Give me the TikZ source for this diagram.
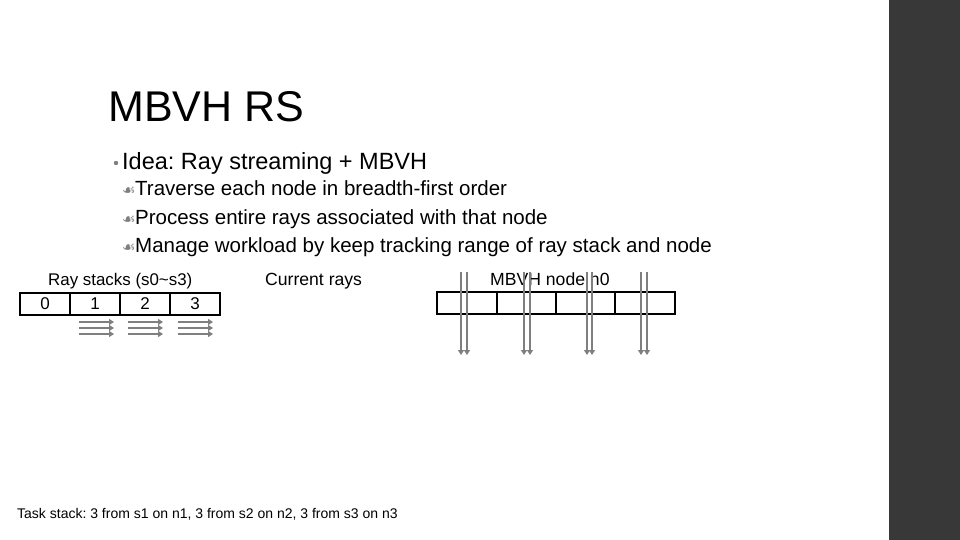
\documentclass[tikz,border=0pt]{standalone}
\usepackage{fontspec}
\setmainfont{Liberation Sans}
\newfontfamily\symfont{DejaVu Sans}
\usetikzlibrary{arrows.meta}
\frenchspacing
\definecolor{barcol}{HTML}{383838}
\definecolor{raycol}{HTML}{7F7F7F}
\tikzset{
  txt/.style={anchor=base west,inner sep=0pt,text=black},
  cell/.style={draw=black,line width=1.8pt},
  ray/.style={draw=raycol,line width=1.6pt,-{Triangle[width=6pt,length=5pt]}},
  subb/.style={anchor=base west,inner sep=0pt,text=raycol,font=\symfont\fontsize{15}{15}\selectfont},
}
\begin{document}
\begin{tikzpicture}[x=1pt,y=-1pt]
\useasboundingbox (0,0) rectangle (960,540);
\fill[white] (0,0) rectangle (960,540);
\fill[barcol] (889,0) rectangle (960,540);
% title
\node[txt,font=\fontsize{43}{43}\selectfont] (title) at (108,122) {MBVH RS};
% bullets
\fill[raycol] (116,163) circle (2.2);
\node[txt,font=\fontsize{23.5}{23.5}\selectfont] (idea) at (122,170) {Idea: Ray streaming + MBVH};
\node[subb] (b1) at (122,196) {☙};
\node[txt,font=\fontsize{20.5}{20.5}\selectfont] (t1) at (135,196) {Traverse each node in breadth-first order};
\node[subb] (b2) at (122,224) {☙};
\node[txt,font=\fontsize{20.5}{20.5}\selectfont] (t2) at (135,224) {Process entire rays associated with that node};
\node[subb] (b3) at (122,252) {☙};
\node[txt,font=\fontsize{20.5}{20.5}\selectfont] (t3) at (135,252) {Manage workload by keep tracking range of ray stack and node};
% labels
\node[txt,font=\fontsize{16.9}{16.9}\selectfont] (rs) at (48,285) {Ray stacks (s0\char`~s3)};
\node[txt,font=\fontsize{17.6}{17.6}\selectfont] (cr) at (265,285) {Current rays};
% ray stack table
\foreach \i/\x in {0/20,1/70,2/120,3/170}{
  \draw[cell] (\x,293) rectangle ++(50,22);
  \node[inner sep=0pt,font=\fontsize{17}{17}\selectfont] (s\i) at (\x+25,304) {\i};
}
% horizontal rays
\foreach \x in {79,128,178}{
  \foreach \y in {322,328,334}{
    \draw[ray] (\x,\y) -- (\x+35,\y);
  }
}
% MBVH node table
\foreach \i/\x/\w in {0/437/60,1/497/59,2/556/59,3/615/60}{
  \draw[cell] (\x,292) rectangle ++(\w,22);
}
\node[txt,font=\fontsize{17.6}{17.6}\selectfont] (mn) at (490,285) {MBVH node n0};
% vertical rays
\foreach \x in {461,467,524,530,587,592,641,647}{
  \draw[ray] (\x,272) -- (\x,355);
}
% task stack
\node[txt,font=\fontsize{14}{14}\selectfont] (task) at (17,518) {Task stack: 3 from s1 on n1, 3 from s2 on n2, 3 from s3 on n3};
\end{tikzpicture}
\end{document}
